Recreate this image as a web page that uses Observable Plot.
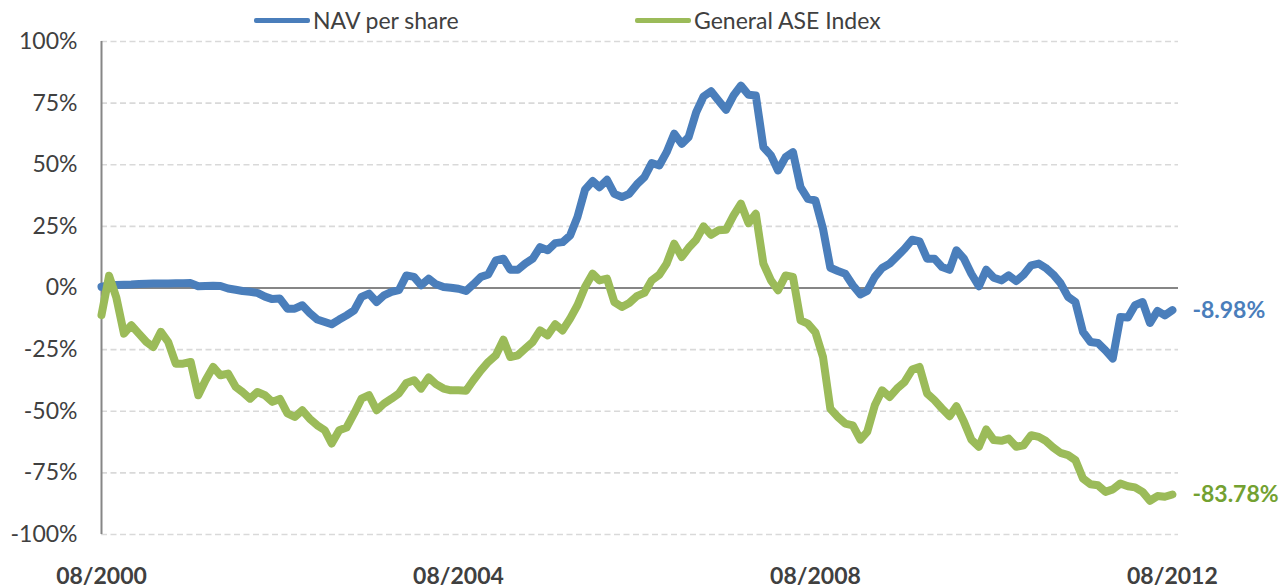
<!DOCTYPE html>
<html>
<head>
<meta charset="utf-8">
<script src="https://cdn.jsdelivr.net/npm/d3@7"></script>
<script src="https://cdn.jsdelivr.net/npm/@observablehq/plot@0.6"></script>
<style>
  html, body { margin: 0; padding: 0; background: #fff; }
  #wrap { position: relative; width: 1283px; height: 588px; font-family: Lato, "Open Sans", sans-serif; }
  .leg { position: absolute; top: 6px; height: 28px; display: flex; align-items: center; font-size: 23px; color: #404040; white-space: nowrap; }
  .leg .sw { display: inline-block; width: 56px; height: 5px; border-radius: 2px; margin-right: 3px; }
  #chart svg [aria-label="x-axis tick label"] { font-weight: bold; }
</style>
</head>
<body>
<div id="wrap">
  <div id="chart"></div>
  <div class="leg" style="left:254px"><span class="sw" style="background:#4A7EBB"></span><span>NAV per share</span></div>
  <div class="leg" style="left:635px"><span class="sw" style="background:#9BBB59"></span><span>General ASE Index</span></div>
</div>
<script>
// Monthly observations, 08/2000 .. 08/2012 (cumulative % change)
const startMonth = "2000-08";
const endMonth = "2012-08";
const seriesNames = ["NAV per share", "General ASE Index"];
const seriesColors = ["#4A7EBB", "#9BBB59"];
const labelColors = ["#4A7EBB", "#73A131"];
const endLabels = ["-8.98%", "-83.78%"];
const yTicks = [-100, -75, -50, -25, 0, 25, 50, 75, 100];
const xTickLabels = ["2000-08", "2004-08", "2008-08", "2012-08"];

const navPerShare = [
  0.5, 1.0, 1.2, 1.3, 1.4, 1.6, 1.7, 1.8, 1.8, 1.8, 1.9, 1.9, 2.0, 0.7, 0.8, 0.9, 0.8, -0.2, -0.7, -1.2, -1.5, -2.0, -3.5, -4.5,
  -4.3, -8.4, -8.4, -7.0, -10.1, -12.8, -13.8, -14.7, -12.8, -11.1, -9.1, -3.6, -2.3, -5.7, -3.0, -1.6, -0.9, 5.1, 4.5, 1.1, 3.8, 1.5, 0.4, 0.1,
  -0.3, -1.2, 1.5, 4.5, 5.5, 11.2, 11.9, 7.4, 7.4, 9.9, 11.9, 16.6, 15.3, 18.2, 18.6, 21.3, 28.8, 39.9, 43.4, 40.9, 43.9, 38.2, 36.9, 38.2,
  42.0, 45.0, 50.7, 49.7, 55.1, 62.6, 58.5, 61.2, 71.3, 77.7, 79.8, 76.1, 72.3, 78.1, 82.1, 78.4, 78.1, 57.2, 53.8, 47.7, 53.1, 55.1, 40.9, 36.2,
  35.5, 24.0, 8.2, 6.9, 5.8, 1.1, -2.6, -1.2, 4.5, 8.1, 9.9, 12.8, 15.9, 19.6, 18.9, 11.9, 11.9, 8.5, 7.4, 15.3, 11.9, 5.8, 0.7, 7.4,
  4.2, 3.1, 5.1, 2.8, 5.4, 9.2, 9.9, 8.2, 5.5, 2.0, -3.6, -5.7, -17.8, -21.9, -22.3, -25.3, -28.6, -11.8, -12.0, -7.0, -5.7, -14.2, -9.3, -11.1, -8.98
];

const generalASE = [
  -11.0, 5.0, -4.0, -18.5, -15.1, -18.5, -21.9, -23.9, -17.8, -21.9, -30.7, -30.7, -30.0, -43.5, -37.4, -32.0, -35.4, -34.7, -40.1, -42.2, -44.9, -42.2, -43.5, -46.2,
  -45.0, -50.9, -52.3, -49.6, -53.0, -55.7, -57.7, -63.1, -57.7, -56.6, -50.9, -44.9, -43.5, -49.6, -46.9, -44.9, -42.8, -38.5, -37.4, -40.8, -36.3, -39.0, -40.8, -41.5,
  -41.5, -41.7, -37.4, -33.4, -30.0, -27.3, -21.0, -28.0, -27.3, -24.6, -21.9, -17.2, -19.2, -14.7, -17.2, -12.4, -7.0, 0.4, 5.8, 3.1, 3.8, -5.7, -7.7, -6.1,
  -3.3, -2.0, 3.1, 5.4, 9.9, 18.0, 12.6, 16.3, 19.6, 25.0, 21.6, 23.4, 23.6, 29.5, 34.2, 26.3, 30.1, 9.9, 3.1, -0.9, 5.1, 4.5, -13.1, -14.5,
  -18.0, -28.0, -49.0, -52.3, -55.0, -55.7, -61.5, -58.4, -47.6, -41.5, -44.2, -40.8, -38.1, -33.1, -32.0, -42.8, -45.5, -48.9, -52.0, -48.0, -54.3, -61.5, -64.4, -57.4,
  -61.7, -62.0, -61.1, -64.4, -63.8, -59.7, -60.4, -62.0, -64.7, -66.9, -67.8, -69.8, -77.3, -79.6, -80.0, -82.7, -81.7, -79.3, -80.4, -80.9, -82.7, -86.3, -84.4, -84.7, -83.78
];

const parseMonth = d3.utcParse("%Y-%m");
const months = d3.utcMonths(parseMonth(startMonth), d3.utcMonth.offset(parseMonth(endMonth), 1));
const allSeries = [navPerShare, generalASE];
const rows = allSeries.flatMap((vals, s) => vals.map((v, i) => ({date: months[i], value: v, series: seriesNames[s]})));
const lastPoints = allSeries.map((vals, s) => ({date: months[vals.length - 1], value: vals[vals.length - 1], label: endLabels[s], color: labelColors[s]}));
const xStart = months[0];
const xEnd = d3.utcDay.offset(months[months.length - 1], 25);

const chart = Plot.plot({
  width: 1283,
  height: 588,
  marginLeft: 101,
  marginRight: 105,
  marginTop: 41,
  marginBottom: 54,
  style: {fontFamily: "Lato, 'Open Sans', sans-serif", color: "#404040", background: "#fff"},
  x: {type: "utc", domain: [xStart, xEnd]},
  y: {domain: [-100, 100]},
  marks: [
    Plot.gridY(yTicks, {stroke: "#d9d9d9", strokeOpacity: 1, strokeWidth: 1.6, strokeDasharray: "6,3.5"}),
    Plot.ruleY([0], {stroke: "#868686", strokeWidth: 2}),
    Plot.ruleX([xStart], {stroke: "#868686", strokeWidth: 2}),
    Plot.axisY({ticks: yTicks, tickFormat: d => d + "%", tickSize: 0, tickPadding: 24, fontSize: 23, label: null}),
    Plot.axisX({ticks: xTickLabels.map(parseMonth), tickFormat: d3.utcFormat("%m/%Y"), tickSize: 0, tickPadding: 33, fontSize: 23, label: null}),
    Plot.line(rows.filter(r => r.series === seriesNames[0]), {x: "date", y: "value", stroke: seriesColors[0], strokeWidth: 8, strokeLinejoin: "round", strokeLinecap: "round"}),
    Plot.line(rows.filter(r => r.series === seriesNames[1]), {x: "date", y: "value", stroke: seriesColors[1], strokeWidth: 8, strokeLinejoin: "round", strokeLinecap: "round"}),
    Plot.text(lastPoints, {x: "date", y: "value", text: "label", fill: "color", dx: 20, textAnchor: "start", fontSize: 23, fontWeight: "bold"})
  ]
});
document.getElementById("chart").appendChild(chart);
</script>
</body>
</html>
